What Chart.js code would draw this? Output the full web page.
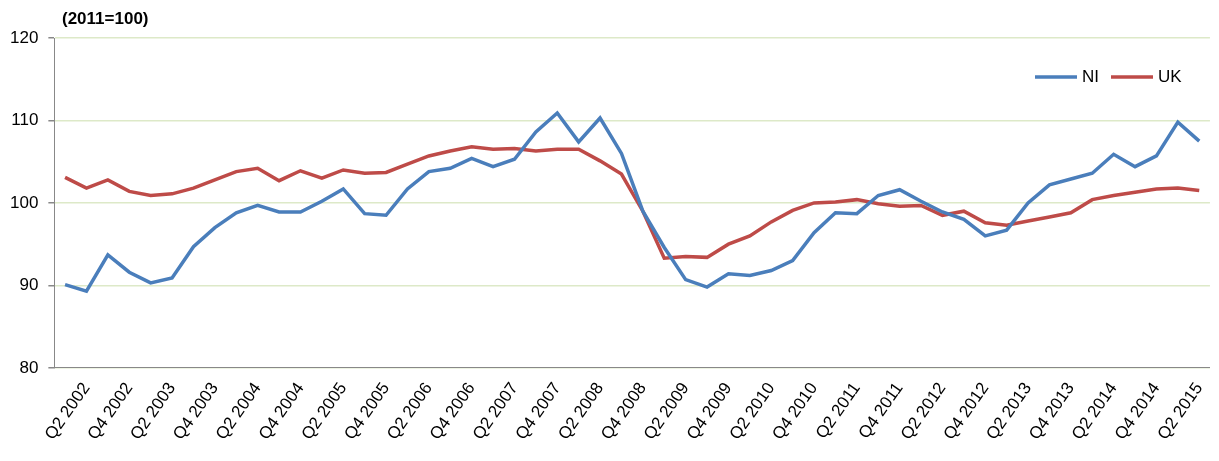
<!DOCTYPE html>
<html>
<head>
<meta charset="utf-8">
<script src="https://cdn.jsdelivr.net/npm/chart.js@4/dist/chart.umd.min.js"></script>
<style>
  body { margin: 0; background: #fff; }
  #wrap { position: relative; width: 1219px; height: 461px; }
  #note { position: absolute; left: 62px; top: 9px; font: bold 17px "Liberation Sans", Arial, sans-serif; }
</style>
</head>
<body>
<div id="wrap">
  <canvas id="graphique" width="1219" height="461"></canvas>
  <div id="note">(2011=100)</div>
</div>
<script>
var quarters = []
for (var y = 2002; y <= 2015; y++) {
    for (var q = 1; q <= 4; q++) {
        if (y == 2015 && q > 2) break
        quarters.push('Q' + q + ' ' + y)
    }
}
var niValues = [90.1, 89.3, 93.7, 91.6, 90.3, 90.9, 94.7, 97.0, 98.8, 99.7, 98.9, 98.9, 100.2, 101.7,
    98.7, 98.5, 101.7, 103.8, 104.2, 105.4, 104.4, 105.3, 108.6, 110.9, 107.4, 110.3, 106.0,
    99.0, 94.6, 90.7, 89.8, 91.4, 91.2, 91.8, 93.0, 96.4, 98.8, 98.7, 100.9, 101.6, 100.2,
    98.9, 98.0, 96.0, 96.7, 100.0, 102.2, 102.9, 103.6, 105.9, 104.4, 105.7, 109.8, 107.5]
var ukValues = [103.1, 101.8, 102.8, 101.4, 100.9, 101.1, 101.8, 102.8, 103.8, 104.2, 102.7, 103.9,
    103.0, 104.0, 103.6, 103.7, 104.7, 105.7, 106.3, 106.8, 106.5, 106.6, 106.3, 106.5, 106.5,
    105.1, 103.5, 99.0, 93.3, 93.5, 93.4, 95.0, 96.0, 97.7, 99.1, 100.0, 100.1, 100.4, 99.9,
    99.6, 99.7, 98.5, 99.0, 97.6, 97.3, 97.8, 98.3, 98.8, 100.4, 100.9, 101.3, 101.7, 101.8, 101.5]
var yTicks = [80, 90, 100, 110, 120]

var font = { family: '"Liberation Sans", Arial, sans-serif', size: 17 }

// legend drawn inside the plot, top right
var legendPlugin = {
    id: 'insideLegend',
    afterDraw: function (chart) {
        var c = chart.ctx
        var x = 1035, yy = 77
        c.save()
        c.font = '17px "Liberation Sans", Arial, sans-serif'
        c.textBaseline = 'middle'
        chart.data.datasets.forEach(function (ds) {
            c.strokeStyle = ds.borderColor
            c.lineWidth = 3.5
            c.beginPath(); c.moveTo(x, yy); c.lineTo(x + 42, yy); c.stroke()
            c.fillStyle = '#000'
            c.fillText(ds.label, x + 47, yy)
            x += 47 + c.measureText(ds.label).width + 12
        })
        c.restore()
    }
}

var ctx = document.getElementById('graphique')
var lineChart = new Chart(ctx, {
    type: 'line',
    data: {
        labels: quarters,
        datasets: [
            { label: 'NI', data: niValues, borderColor: '#4a7ebb', backgroundColor: '#4a7ebb', borderWidth: 3.5, pointRadius: 0, tension: 0 },
            { label: 'UK', data: ukValues, borderColor: '#be4b48', backgroundColor: '#be4b48', borderWidth: 3.5, pointRadius: 0, tension: 0 }
        ]
    },
    plugins: [legendPlugin],
    options: {
        responsive: false,
        animation: false,
        layout: { padding: { left: 0, right: 4, top: 38, bottom: 14 } },
        plugins: {
            tooltip: { enabled: false },
            legend: { display: false }
        },
        scales: {
            x: {
                offset: true,
                grid: { display: false },
                border: { color: '#888' },
                ticks: {
                    autoSkip: false, maxRotation: 55, minRotation: 55, color: '#000', font: font,
                    callback: function (v, i) { return i % 2 == 1 ? quarters[i] : '' }
                }
            },
            y: {
                min: 80, max: 120,
                afterBuildTicks: function (axis) { axis.ticks = yTicks.map(function (v) { return { value: v } }) },
                grid: { color: '#dde9c8', lineWidth: 1.5, tickColor: '#888', tickLength: 6 },
                border: { color: '#888' },
                ticks: { color: '#000', font: font, padding: 10 }
            }
        }
    }
})
</script>
</body>
</html>
